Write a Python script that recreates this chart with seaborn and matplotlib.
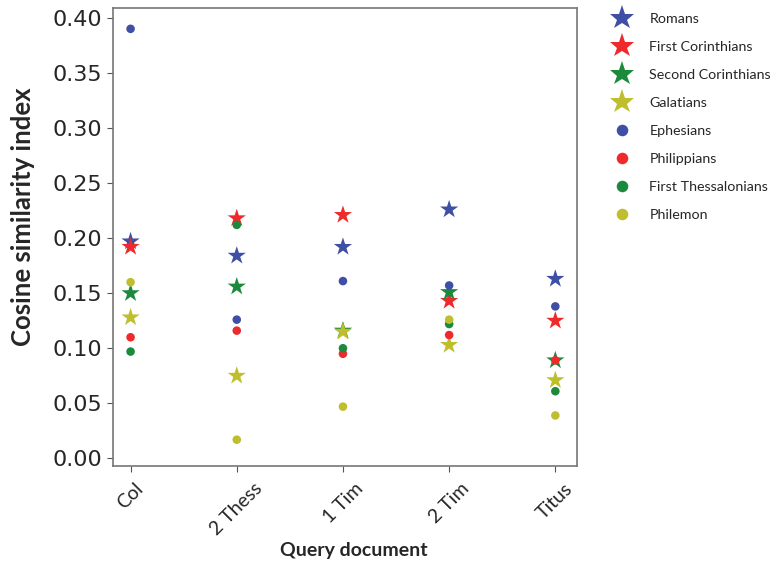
import pandas as pd
import matplotlib.pyplot as plt
import seaborn as sns

sns.set_style("ticks")

# Query documents (x axis)
queries = ["Col", "2 Thess", "1 Tim", "2 Tim", "Titus"]

# Cosine similarity of each query to the reference letters
romans = [0.197, 0.184, 0.192, 0.226, 0.163]
first_cor = [0.192, 0.218, 0.221, 0.143, 0.125]
second_cor = [0.150, 0.156, 0.116, 0.151, 0.089]
galatians = [0.128, 0.075, 0.115, 0.103, 0.071]
ephesians = [0.390, 0.126, 0.161, 0.157, 0.138]
philippians = [0.110, 0.116, 0.095, 0.112, 0.089]
first_thess = [0.097, 0.212, 0.100, 0.122, 0.061]
philemon = [0.160, 0.017, 0.047, 0.126, 0.039]

star_series = {"Romans": romans, "First Corinthians": first_cor,
               "Second Corinthians": second_cor, "Galatians": galatians}
dot_series = {"Ephesians": ephesians, "Philippians": philippians,
              "First Thessalonians": first_thess, "Philemon": philemon}

colors = {"Romans": "#3e4fa5", "First Corinthians": "#ee2a2c",
          "Second Corinthians": "#1c8a3d", "Galatians": "#bfbf2e",
          "Ephesians": "#3e4fa5", "Philippians": "#ee2a2c",
          "First Thessalonians": "#1c8a3d", "Philemon": "#bfbf2e"}


def to_long(series):
    rows = []
    for name, vals in series.items():
        for q, v in zip(queries, vals):
            rows.append({"Query document": q, "Letter": name, "Cosine similarity index": v})
    return pd.DataFrame(rows)


stars = to_long(star_series)
dots = to_long(dot_series)

fig = plt.figure(figsize=(7.76, 5.65), dpi=100)
ax = fig.add_axes([0.145, 0.175, 0.598, 0.811])

sns.scatterplot(data=stars, x="Query document", y="Cosine similarity index",
                hue="Letter", palette=colors, marker="*", s=190,
                linewidth=0, ax=ax, zorder=3)
sns.scatterplot(data=dots, x="Query document", y="Cosine similarity index",
                hue="Letter", palette=colors, marker="o", s=38,
                linewidth=0, ax=ax, zorder=4)

ax.set_xlim(-0.17, 4.2)
ax.set_ylim(-0.007, 0.409)
ax.set_yticks([0.0, 0.05, 0.10, 0.15, 0.20, 0.25, 0.30, 0.35, 0.40])
ax.set_yticklabels([f"{t:.2f}" for t in ax.get_yticks()])
ax.tick_params(axis="y", labelsize=16, labelcolor="#262626", color="#555555", length=4)
ax.tick_params(axis="x", labelsize=14, color="#555555", length=4, pad=6)
for lab in ax.get_xticklabels():
    lab.set_rotation(45)
    lab.set_ha("center")
    lab.set_family("Lato")
for sp in ax.spines.values():
    sp.set_color("#777777")
    sp.set_linewidth(1.2)

ax.set_xlabel("Query document", fontsize=14, fontweight="bold", family="Lato")
ax.xaxis.set_label_coords(0.52, -0.165)
ax.set_ylabel("Cosine similarity index", fontsize=18.5, fontweight="bold", family="Lato")
ax.yaxis.set_label_coords(-0.168, 0.545)

# Legend outside on the right
handles, labels = ax.get_legend_handles_labels()
ax.legend(handles, labels, loc="upper left", bbox_to_anchor=(1.04, 1.018),
          frameon=False, prop={"family": "Lato", "size": 10.3},
          markerscale=1.35, handletextpad=0.9, labelspacing=1.12)

plt.savefig("out.png", dpi=100)
